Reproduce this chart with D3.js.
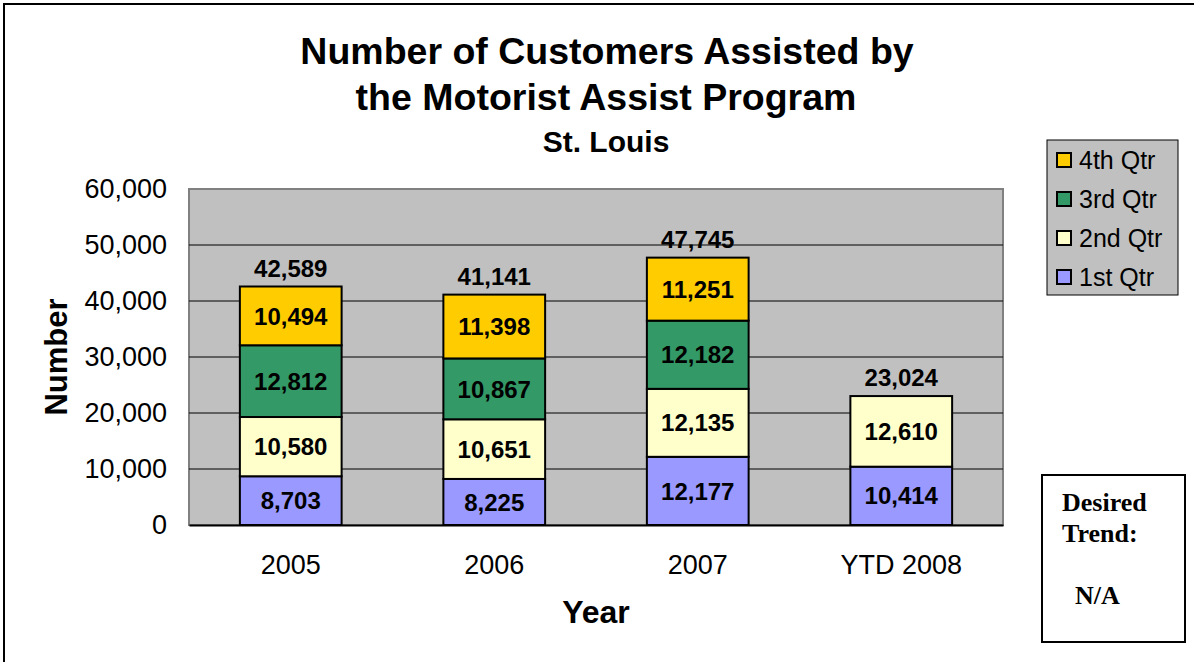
<!DOCTYPE html>
<html>
<head>
<meta charset="utf-8">
<script src="https://cdn.jsdelivr.net/npm/d3@7"></script>
<style>
  body { margin: 0; background: #fff; }
  svg { display: block; font-family: "Liberation Sans", Arial, sans-serif; }
</style>
</head>
<body>
<div id="chart"></div>
<script>
// datos
const years = ['2005', '2006', '2007', 'YTD 2008'];
const quarters = ['1st Qtr', '2nd Qtr', '3rd Qtr', '4th Qtr'];
const q1 = [8703, 8225, 12177, 10414];
const q2 = [10580, 10651, 12135, 12610];
const q3 = [12812, 10867, 12182, 0];
const q4 = [10494, 11398, 11251, 0];
const yTicks = [0, 10000, 20000, 30000, 40000, 50000, 60000];
const colors = ['#9999ff', '#ffffcc', '#339966', '#ffcc00'];

const W = 1194, H = 662;
const plot = { left: 189, top: 189, right: 1003, bottom: 525 };
const sans = '"Liberation Sans", Arial, sans-serif';

const rows = years.map((y, i) => ({ year: y, '1st Qtr': q1[i], '2nd Qtr': q2[i], '3rd Qtr': q3[i], '4th Qtr': q4[i] }));
const stacked = d3.stack().keys(quarters)(rows);

const x = d3.scaleBand().domain(years).range([plot.left, plot.right]).paddingInner(0.5).paddingOuter(0.25);
const y = d3.scaleLinear().domain([0, 60000]).range([plot.bottom, plot.top]);
const fmt = d3.format(',');

const svg = d3.select('#chart').append('svg').attr('width', W).attr('height', H);

// marco exterior
svg.append('rect').attr('x', 4).attr('y', 4).attr('width', W + 10).attr('height', H + 10)
  .attr('fill', '#fff').attr('stroke', '#000').attr('stroke-width', 2);

// área del gráfico
svg.append('rect').attr('x', plot.left).attr('y', plot.top)
  .attr('width', plot.right - plot.left).attr('height', plot.bottom - plot.top)
  .attr('fill', '#c0c0c0').attr('stroke', '#808080').attr('stroke-width', 2);

// líneas de la cuadrícula
svg.append('g').selectAll('line').data(yTicks.filter(d => d > 0 && d < 60000)).join('line')
  .attr('x1', plot.left).attr('x2', plot.right)
  .attr('y1', d => y(d)).attr('y2', d => y(d))
  .attr('stroke', '#000').attr('stroke-width', 1);

// eje y
const yAxis = d3.axisLeft(y).tickValues(yTicks).tickFormat(fmt).tickSize(0).tickPadding(22);
const gy = svg.append('g').attr('transform', `translate(${plot.left},0)`).call(yAxis);
gy.select('.domain').remove();
gy.selectAll('text').attr('font-size', 27).attr('fill', '#000').attr('font-family', sans);

// eje x
const xAxis = d3.axisBottom(x).tickSize(0).tickPadding(30);
const gx = svg.append('g').attr('transform', `translate(0,${plot.bottom})`).call(xAxis);
gx.select('.domain').attr('stroke', '#000').attr('stroke-width', 2);
gx.selectAll('text').attr('font-size', 27).attr('fill', '#000').attr('font-family', sans);

// barras apiladas
const layers = svg.append('g').selectAll('g').data(stacked).join('g')
  .attr('fill', (d, i) => colors[i]);

layers.selectAll('rect').data(d => d.filter(s => s[1] > s[0])).join('rect')
  .attr('x', d => x(d.data.year))
  .attr('width', x.bandwidth())
  .attr('y', d => y(d[1]))
  .attr('height', d => y(d[0]) - y(d[1]))
  .attr('stroke', '#000').attr('stroke-width', 2);

// etiquetas de cada tramo
layers.selectAll('text').data(d => d.filter(s => s[1] > s[0])).join('text')
  .attr('x', d => x(d.data.year) + x.bandwidth() / 2)
  .attr('y', d => (y(d[0]) + y(d[1])) / 2)
  .attr('dy', '0.36em')
  .attr('text-anchor', 'middle')
  .attr('font-size', 24).attr('font-weight', 'bold').attr('fill', '#000')
  .text(d => fmt(d[1] - d[0]));

// totales encima
const topLayer = stacked[stacked.length - 1];
svg.append('g').selectAll('text').data(topLayer).join('text')
  .attr('x', d => x(d.data.year) + x.bandwidth() / 2)
  .attr('y', d => y(d[1]) - 10)
  .attr('text-anchor', 'middle')
  .attr('font-size', 24).attr('font-weight', 'bold')
  .text(d => fmt(d[1]));

// títulos
const title = svg.append('g').attr('text-anchor', 'middle').attr('font-weight', 'bold');
title.append('text').attr('x', 607).attr('y', 64).attr('font-size', 37.5).text('Number of Customers Assisted by');
title.append('text').attr('x', 606).attr('y', 110).attr('font-size', 37.5).text('the Motorist Assist Program');
title.append('text').attr('x', 606).attr('y', 152).attr('font-size', 30).text('St. Louis');

svg.append('text').attr('x', 596).attr('y', 623).attr('text-anchor', 'middle')
  .attr('font-size', 32).attr('font-weight', 'bold').text('Year');
svg.append('text').attr('transform', 'translate(67,357) rotate(-90)').attr('text-anchor', 'middle')
  .attr('font-size', 31).attr('font-weight', 'bold').text('Number');

// leyenda
const legendG = svg.append('g').attr('transform', 'translate(1047,140)');
legendG.append('rect').attr('width', 131).attr('height', 155)
  .attr('fill', '#c0c0c0').attr('stroke', '#000').attr('stroke-width', 1);
const legendItems = legendG.selectAll('g').data(quarters.slice().reverse()).join('g')
  .attr('transform', (d, i) => `translate(10,${20 + i * 39})`);
legendItems.append('rect').attr('x', 0).attr('y', -7).attr('width', 14).attr('height', 14)
  .attr('fill', d => colors[quarters.indexOf(d)]).attr('stroke', '#000').attr('stroke-width', 2);
legendItems.append('text').attr('x', 22).attr('y', 0).attr('dy', '0.36em')
  .attr('font-size', 25).text(d => d);

// caja de tendencia deseada
const trend = svg.append('g').attr('font-family', '"Liberation Serif", "Times New Roman", serif')
  .attr('font-weight', 'bold').attr('font-size', 26);
trend.append('rect').attr('x', 1042).attr('y', 475).attr('width', 143).attr('height', 167)
  .attr('fill', '#fff').attr('stroke', '#000').attr('stroke-width', 2);
trend.append('text').attr('x', 1062).attr('y', 511).text('Desired');
trend.append('text').attr('x', 1062).attr('y', 542).text('Trend:');
trend.append('text').attr('x', 1075).attr('y', 604).text('N/A');
</script>
</body>
</html>
